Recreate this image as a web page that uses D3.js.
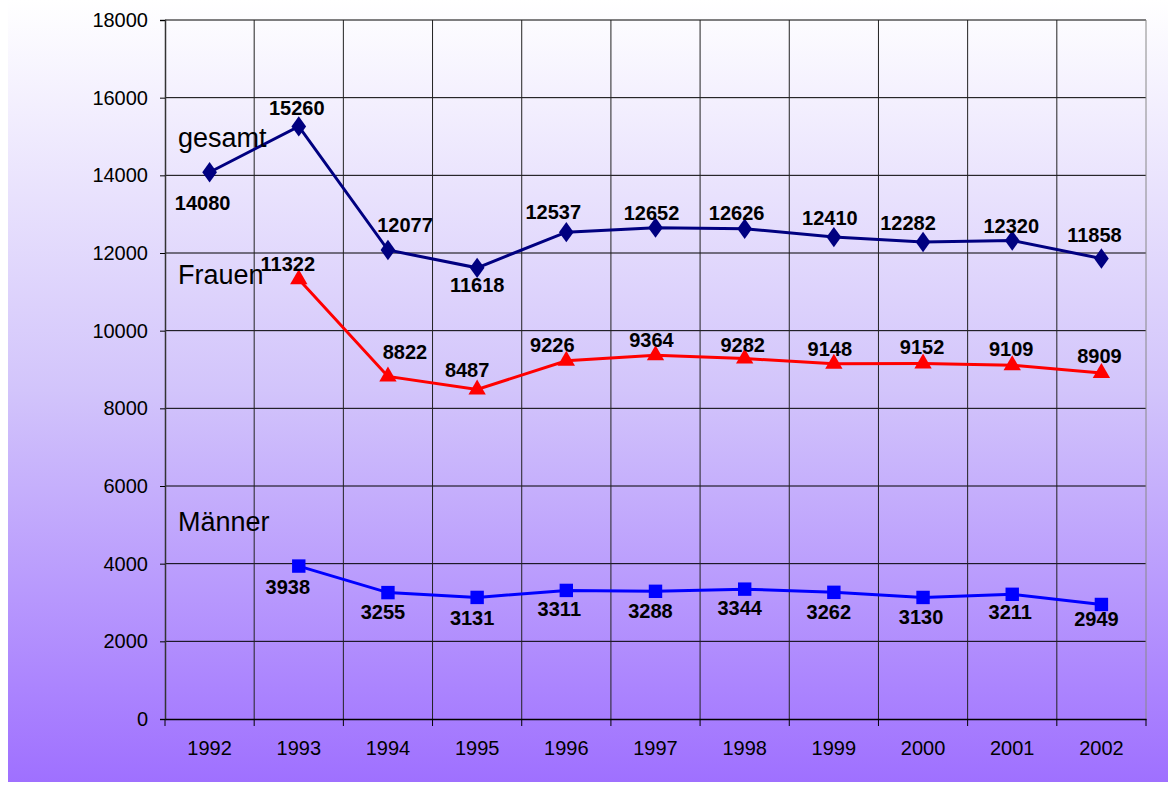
<!DOCTYPE html>
<html>
<head>
<meta charset="utf-8">
<script src="https://cdn.jsdelivr.net/npm/d3@7"></script>
<style>
  body { margin: 0; background: #fff; }
  svg { display: block; font-family: "Liberation Sans", Arial, sans-serif; }
</style>
</head>
<body>
<div id="chart"></div>
<script>
// data
const years = ["1992", "1993", "1994", "1995", "1996", "1997", "1998", "1999", "2000", "2001", "2002"];
const gesamt = [14080, 15260, 12077, 11618, 12537, 12652, 12626, 12410, 12282, 12320, 11858];
const frauen = [null, 11322, 8822, 8487, 9226, 9364, 9282, 9148, 9152, 9109, 8909];
const maenner = [null, 3938, 3255, 3131, 3311, 3288, 3344, 3262, 3130, 3211, 2949];
const yTicks = [0, 2000, 4000, 6000, 8000, 10000, 12000, 14000, 16000, 18000];

(function(){
  const W = 1168, H = 787;
  const margin = { top: 20, right: 22, bottom: 68, left: 165 },
      width = W - margin.left - margin.right,
      height = H - margin.top - margin.bottom;

  const root = d3.select("#chart").append("svg")
      .attr("width", W).attr("height", H);

  // background gradient
  const grad = root.append("defs").append("linearGradient")
      .attr("id", "bg").attr("x1", 0).attr("y1", 0).attr("x2", 0).attr("y2", 1);
  grad.append("stop").attr("offset", "0%").attr("stop-color", "#ffffff");
  grad.append("stop").attr("offset", "50%").attr("stop-color", "#d2c4fb");
  grad.append("stop").attr("offset", "100%").attr("stop-color", "#9f70ff");
  root.append("rect").attr("x", 8).attr("y", 0).attr("width", W - 8).attr("height", 782)
      .attr("fill", "url(#bg)");

  const svg = root.append("g").attr("transform", `translate(${margin.left},${margin.top})`);

  const x = d3.scaleBand().domain(years).range([0, width]);
  const y = d3.scaleLinear().domain([0, 18000]).range([height, 0]);
  const cx = d => x(d) + x.bandwidth() / 2;

  // horizontal gridlines
  svg.append("g").selectAll("line").data(yTicks.slice(1)).join("line")
      .attr("x1", 0).attr("x2", width)
      .attr("y1", d => y(d)).attr("y2", d => y(d))
      .attr("stroke", "#000").attr("stroke-width", 1);

  // vertical gridlines at category boundaries
  svg.append("g").selectAll("line").data(years.slice(1)).join("line")
      .attr("x1", d => x(d)).attr("x2", d => x(d))
      .attr("y1", 0).attr("y2", height)
      .attr("stroke", "#222").attr("stroke-width", 1);
  svg.append("line").attr("x1", width).attr("x2", width).attr("y1", 0).attr("y2", height)
      .attr("stroke", "#888");

  // y axis
  const yAxis = svg.append("g")
      .call(d3.axisLeft(y).tickValues(yTicks).tickSize(5).tickPadding(12).tickFormat(d3.format("d")));
  yAxis.attr("font-size", 20).attr("font-family", "Liberation Sans, Arial");
  yAxis.select(".domain").attr("stroke", "#333").attr("stroke-width", 1.5);
  yAxis.selectAll(".tick line").attr("stroke", "#000");
  yAxis.selectAll("text").attr("fill", "#000");

  // x axis
  const xAxis = svg.append("g").attr("transform", `translate(0,${height})`)
      .call(d3.axisBottom(x).tickSize(0).tickPadding(22));
  xAxis.attr("font-size", 20).attr("font-family", "Liberation Sans, Arial");
  xAxis.select(".domain").attr("stroke", "#000").attr("stroke-width", 1.5);
  xAxis.selectAll("text").attr("fill", "#000");
  svg.append("g").selectAll("line").data(years.concat(["end"])).join("line")
      .attr("x1", (d, i) => i * x.step()).attr("x2", (d, i) => i * x.step())
      .attr("y1", height).attr("y2", height + 7)
      .attr("stroke", "#000");

  // label offsets (dx, dy) from the point, per series
  const gesamtOff = [[-7, 31], [-2, -18], [17, -25], [0, 17], [-13, -20], [-4, -15], [-8, -16], [-4, -19], [-15, -19], [-1, -15], [-7, -24]];
  const frauenOff = [null, [-11, -15], [17, -24], [-10, -19], [-14, -16], [-4, -15], [-2, -14], [-4, -15], [-1, -17], [-1, -16], [-2, -17]];
  const maennerOff = [null, [-11, 21], [-5, 19], [-5, 21], [-7, 19], [-5, 20], [-5, 19], [-5, 20], [-2, 20], [-2, 18], [-5, 15]];

  const series = [
    { name: "gesamt", values: gesamt, color: "#000080", symbol: d3.symbolDiamond, size: 120, off: gesamtOff, nameY: 138 },
    { name: "Frauen", values: frauen, color: "#ff0000", symbol: d3.symbolTriangle, size: 130, off: frauenOff, nameY: 275 },
    { name: "Männer", values: maenner, color: "#0000ff", symbol: d3.symbolSquare, size: 180, off: maennerOff, nameY: 522 }
  ];

  series.forEach(s => {
    const pts = years.map((yr, i) => ({ yr, v: s.values[i], off: s.off[i] })).filter(d => d.v != null);
    const line = d3.line().x(d => cx(d.yr)).y(d => y(d.v));
    svg.append("path").datum(pts)
        .attr("d", line).attr("fill", "none")
        .attr("stroke", s.color).attr("stroke-width", 3);

    svg.append("g").selectAll("path").data(pts).join("path")
        .attr("transform", d => `translate(${cx(d.yr)},${y(d.v)})${s.symbol === d3.symbolDiamond ? " scale(1.25,1)" : ""}`)
        .attr("d", d3.symbol().type(s.symbol).size(s.size))
        .attr("fill", s.color);

    svg.append("g").selectAll("text").data(pts).join("text")
        .attr("x", d => cx(d.yr) + d.off[0])
        .attr("y", d => y(d.v) + d.off[1])
        .attr("dy", "0.35em")
        .attr("text-anchor", "middle")
        .attr("font-size", 20).attr("font-weight", "bold")
        .attr("fill", "#000")
        .text(d => d.v);

    svg.append("text")
        .attr("x", 13).attr("y", s.nameY - margin.top)
        .attr("dy", "0.35em")
        .attr("font-size", 27).attr("fill", "#000")
        .text(s.name);
  });
})();
</script>
</body>
</html>
